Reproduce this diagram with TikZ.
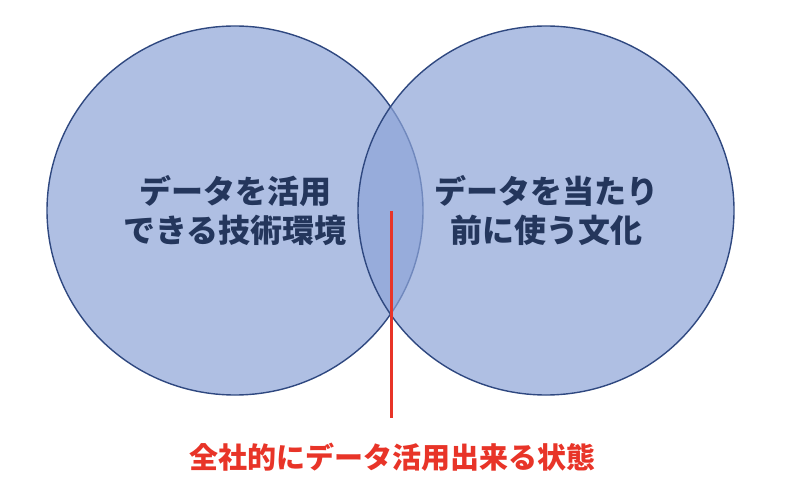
\documentclass[tikz,border=0pt]{standalone}
\usepackage{fontspec}
\newfontfamily\jpfont{Noto Sans CJK JP}
\usepackage{tikz}
\usetikzlibrary{shapes.geometric}

\definecolor{circlefill}{RGB}{141,164,215}
\definecolor{circleedge}{RGB}{47,72,128}
\definecolor{labeltext}{RGB}{36,54,92}
\definecolor{calloutred}{RGB}{232,52,40}

\begin{document}
\begin{tikzpicture}[x=1bp, y=1bp,
  every node/.style={font=\jpfont\bfseries, outer sep=0pt},
  venn/.style={ellipse, draw=circleedge, line width=1.4bp, fill=circlefill, fill opacity=0.7,
    minimum width=376bp, minimum height=369bp, align=center, text=labeltext,
    font=\jpfont\bfseries\fontsize{32bp}{39bp}\selectfont, text opacity=1},
  callout/.style={draw=calloutred, line width=3.5bp}]
\useasboundingbox (0,0) rectangle (802,-494);

\node[venn] (tech) at (235,-210.5) {\raisebox{3bp}{データを活用}\\\raisebox{3bp}{できる技術環境}};
\node[venn] (culture) at (546,-210.5) {\raisebox{3bp}{データを当たり}\\\raisebox{3bp}{前に使う文化}};

\node[anchor=base, text=calloutred, font=\jpfont\bfseries\fontsize{29bp}{34bp}\selectfont] (state) at (392,-468) {全社的にデータ活用出来る状態};
\coordinate (mid) at (391.5,-211);
\coordinate (foot) at (391.5,-418);
\draw[callout] (mid) -- (foot);
\end{tikzpicture}
\end{document}
